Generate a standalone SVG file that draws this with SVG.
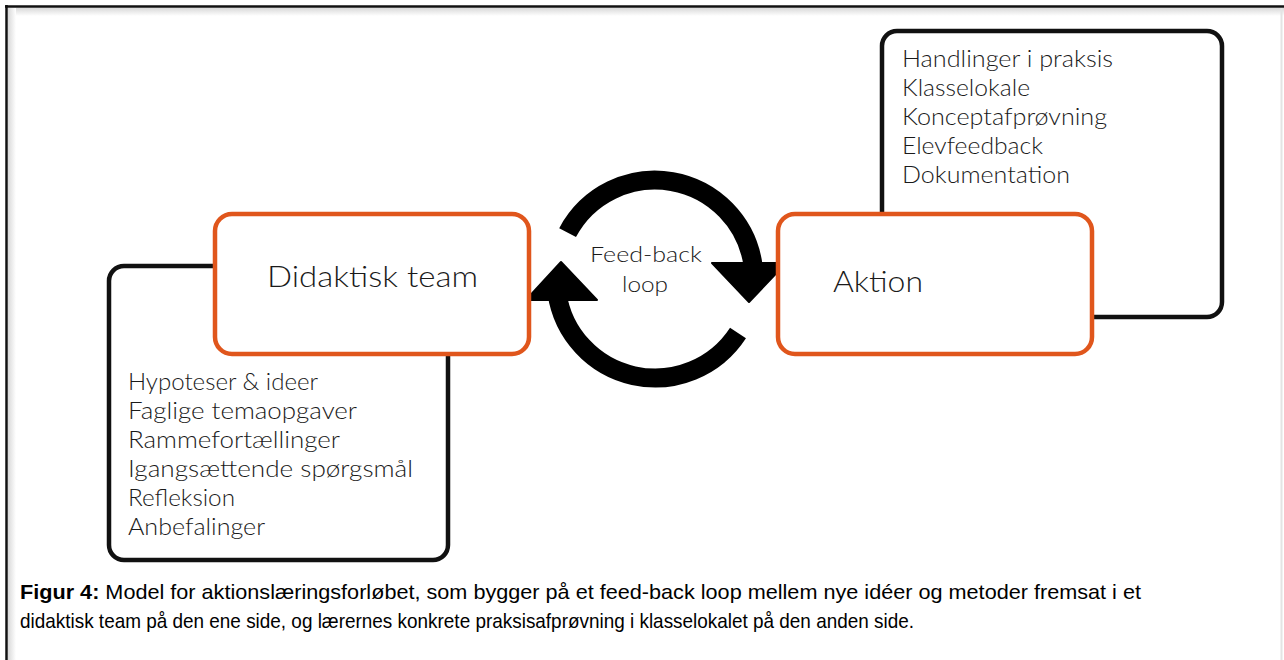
<svg xmlns="http://www.w3.org/2000/svg" width="1284" height="660" viewBox="0 0 1284 660">
  <defs>
    <style>
      .box { fill: #ffffff; stroke: #111111; stroke-width: 4.5; }
      .core { fill: #ffffff; stroke: #E0561C; stroke-width: 4.5; }
      .title { font-family: Lato, "Open Sans", sans-serif; font-weight: 300; font-size: 30px; fill: #1a1a1a; }
      .item { font-family: Lato, "Open Sans", sans-serif; font-weight: 300; font-size: 23px; fill: #1a1a1a; }
      .loop { font-family: Lato, "Open Sans", sans-serif; font-weight: 300; font-size: 22px; fill: #1a1a1a; }
      .arc { fill: none; stroke: #000000; stroke-width: 19; stroke-linecap: butt; }
      .caption { font-family: "Liberation Sans", Arial, sans-serif; font-size: 21px; fill: #000000; }
    </style>
    <linearGradient id="shadeTop" x1="0" y1="0" x2="0" y2="1">
      <stop offset="0" stop-color="#d9d9d9"/>
      <stop offset="1" stop-color="#ffffff"/>
    </linearGradient>
    <linearGradient id="shadeLeft" x1="0" y1="0" x2="1" y2="0">
      <stop offset="0" stop-color="#d9d9d9"/>
      <stop offset="1" stop-color="#ffffff"/>
    </linearGradient>
  </defs>

  <!-- page and figure frame -->
  <rect x="0" y="0" width="1284" height="660" fill="#ffffff"/>
  <rect x="8" y="8" width="1276" height="8" fill="url(#shadeTop)"/>
  <rect x="8" y="8" width="8" height="652" fill="url(#shadeLeft)"/>
  <line x1="1281.5" y1="8" x2="1281.5" y2="660" stroke="#e4e4e4" stroke-width="2"/>
  <line x1="5" y1="6.5" x2="1284" y2="6.5" stroke="#111111" stroke-width="2.5"/>
  <line x1="6.5" y1="5" x2="6.5" y2="660" stroke="#111111" stroke-width="2.5"/>

  <!-- feedback loop connectors -->
  <g id="connectors">
    <path class="arc" d="M 567.6 232.6 A 99 99 0 0 1 753 265"/>
    <polygon points="712,263 786,263 749,302" fill="#000000" stroke="#000000" stroke-width="2" stroke-linejoin="round"/>
    <path class="arc" d="M 738 333 A 99 99 0 0 1 557 293"/>
    <polygon points="526,300 597,300 561,262" fill="#000000" stroke="#000000" stroke-width="2" stroke-linejoin="round"/>
  </g>

  <!-- detail box: team side -->
  <g id="team-details">
    <rect class="box" x="109" y="266" width="339" height="294" rx="15"/>
    <text class="item" x="128" y="390" textLength="190" lengthAdjust="spacingAndGlyphs">Hypoteser &amp; ideer</text>
    <text class="item" x="128" y="419" textLength="229" lengthAdjust="spacingAndGlyphs">Faglige temaopgaver</text>
    <text class="item" x="128" y="448" textLength="212" lengthAdjust="spacingAndGlyphs">Rammefortællinger</text>
    <text class="item" x="128" y="477" textLength="285" lengthAdjust="spacingAndGlyphs">Igangsættende spørgsmål</text>
    <text class="item" x="128" y="506" textLength="107" lengthAdjust="spacingAndGlyphs">Refleksion</text>
    <text class="item" x="128" y="535" textLength="137" lengthAdjust="spacingAndGlyphs">Anbefalinger</text>
  </g>

  <!-- detail box: action side -->
  <g id="action-details">
    <rect class="box" x="882" y="31" width="340" height="286" rx="15"/>
    <text class="item" x="902" y="67" textLength="211" lengthAdjust="spacingAndGlyphs">Handlinger i praksis</text>
    <text class="item" x="902" y="96" textLength="128" lengthAdjust="spacingAndGlyphs">Klasselokale</text>
    <text class="item" x="902" y="125" textLength="205" lengthAdjust="spacingAndGlyphs">Konceptafprøvning</text>
    <text class="item" x="902" y="154" textLength="141" lengthAdjust="spacingAndGlyphs">Elevfeedback</text>
    <text class="item" x="902" y="183" textLength="168" lengthAdjust="spacingAndGlyphs">Dokumentation</text>
  </g>

  <!-- core node: team -->
  <g id="didaktisk-team">
    <rect class="core" x="215" y="214" width="314" height="140" rx="17"/>
    <text class="title" x="267" y="287" textLength="211" lengthAdjust="spacingAndGlyphs">Didaktisk team</text>
  </g>

  <!-- core node: action -->
  <g id="aktion">
    <rect class="core" x="778" y="214" width="314" height="140" rx="17"/>
    <text class="title" x="833" y="292" textLength="90" lengthAdjust="spacingAndGlyphs">Aktion</text>
  </g>

  <!-- loop label -->
  <g id="loop-label">
    <text class="loop" x="590" y="262" textLength="112" lengthAdjust="spacingAndGlyphs">Feed-back</text>
    <text class="loop" x="622" y="292" textLength="46" lengthAdjust="spacingAndGlyphs">loop</text>
  </g>

  <!-- caption -->
  <g id="caption">
    <text class="caption" x="20" y="599" textLength="1121" lengthAdjust="spacingAndGlyphs"><tspan font-weight="bold">Figur 4:</tspan> Model for aktionslæringsforløbet, som bygger på et feed-back loop mellem nye idéer og metoder fremsat i et</text>
    <text class="caption" x="20" y="628" textLength="894" lengthAdjust="spacingAndGlyphs">didaktisk team på den ene side, og lærernes konkrete praksisafprøvning i klasselokalet på den anden side.</text>
  </g>
</svg>
